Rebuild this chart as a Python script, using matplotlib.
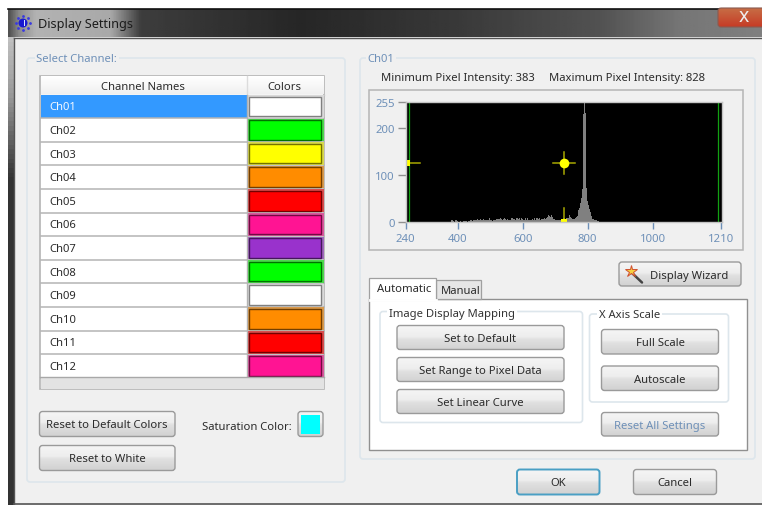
import numpy as np
import matplotlib
matplotlib.use("Agg")
import matplotlib.pyplot as plt
from matplotlib.patches import FancyBboxPatch, Rectangle, Circle

plt.rcParams['font.family'] = ['Noto Sans', 'DejaVu Sans']

# ---- data -----
channel_names = ["Ch01", "Ch02", "Ch03", "Ch04", "Ch05", "Ch06", "Ch07", "Ch08", "Ch09", "Ch10", "Ch11", "Ch12"]
channel_colors = ["#ffffff", "#00ff00", "#ffff00", "#ff8c00", "#ff0000", "#ff1493", "#9932cc", "#00ff00", "#ffffff", "#ff8c00", "#ff0000", "#ff1493"]
hist_start = 380
hist_width = 3
hist_values = [
    3, 3, 2, 0, 3, 3, 1, 0, 0, 1, 1, 0, 0, 1, 2, 2, 1, 0, 1, 2,
    3, 3, 2, 3, 3, 4, 3, 5, 3, 3, 5, 4, 3, 6, 3, 3, 4, 3, 3, 7,
    3, 3, 2, 3, 3, 3, 5, 6, 6, 4, 6, 7, 5, 3, 6, 7, 6, 4, 5, 3,
    3, 3, 7, 7, 6, 5, 3, 7, 7, 5, 7, 4, 7, 6, 4, 3, 7, 4, 7, 4,
    3, 4, 3, 6, 3, 7, 4, 7, 8, 4, 5, 7, 4, 6, 5, 6, 8, 5, 7, 9,
    15, 12, 11, 15, 9, 5, 6, 4, 3, 3, 3, 3, 4, 5, 6, 7, 7, 6, 8, 8,
    8, 14, 9, 7, 6, 5, 5, 7, 9, 13, 19, 25, 30, 40, 50, 70,
    230, 255, 232, 72, 45, 35, 28, 20, 12, 6, 5, 4, 4, 3, 2, 1,
]
hist_x = [hist_start + i * hist_width for i in range(len(hist_values))]
x_ticks = [240, 400, 600, 800, 1000, 1210]
y_ticks = [0, 100, 200, 255]
range_lines = [251, 1202]
left_pt = (245, 126)
mid_pt = (727, 126)
bot_pt = (727, 0)

W, H = 762, 506
fig = plt.figure(figsize=(W / 100, H / 100), dpi=100, facecolor="white")
ui = fig.add_axes([0, 0, 1, 1])
ui.set_xlim(0, W)
ui.set_ylim(H, 0)
ui.axis("off")

TXT = "#2b2b2b"
BLUE = "#6e90b8"
FS = 8.1


def rect(x0, y0, x1, y1, fc, ec="none", lw=1, z=1):
    p = Rectangle((x0, y0), x1 - x0, y1 - y0, fc=fc, ec=ec, lw=lw, zorder=z)
    ui.add_patch(p)
    return p


def rbox(x0, y0, x1, y1, fc, ec, lw=1, r=3, z=1):
    p = FancyBboxPatch((x0, y0), x1 - x0, y1 - y0, boxstyle=f"round,pad=0,rounding_size={r}",
                       fc=fc, ec=ec, lw=lw, zorder=z)
    ui.add_patch(p)
    return p


def label(x, y, s, color=TXT, size=FS, ha="left", z=6, **kw):
    return ui.text(x, y + 1, s, color=color, fontsize=size, ha=ha, va="center", zorder=z, **kw)


def vgrad(stops, n=64):
    pos = np.linspace(0, 1, n)
    vals = np.array([np.interp(pos, [s[0] for s in stops], [s[1] for s in stops])])
    return vals.T


def button(x0, y0, x1, y1, text, color=TXT, edge="#9a9a9a", lw=1.0):
    p = rbox(x0, y0, x1, y1, "none", edge, lw=lw, z=4)
    g = vgrad([(0, .96), (.45, .93), (.55, .88), (1, .82)])
    im = ui.imshow(g, extent=(x0, x1, y1, y0), cmap="gray", vmin=0, vmax=1, aspect="auto", zorder=3)
    im.set_clip_path(p)
    if text:
        label((x0 + x1) / 2, (y0 + y1) / 2, text, color=color, ha="center")


def group(x0, y0, x1, y1, text, tx, ty, color, bg):
    rbox(x0, y0, x1, y1, "none", "#dde6ec", lw=1.2, r=3, z=2)
    label(tx, ty - 1, text, color=color, bbox=dict(fc=bg, ec="none", pad=1.2))


# ---- window chrome ----
rect(8, 10, 762, 506, "#f0f0f0", z=0)
tb = np.interp(np.linspace(8, 762, 300), [8, 18, 35, 110, 140, 300, 450, 600, 680, 762],
               [.32, .55, .70, .66, .24, .15, .22, .32, .46, .50])[None, :]
ui.imshow(tb, extent=(8, 762, 38, 10), cmap="gray", vmin=0, vmax=1, aspect="auto", zorder=1)
ui.plot([8, 762], [9.5, 9.5], color="#111111", lw=1.2, zorder=2)
side = np.interp(np.linspace(0, 1, 100), [0, .12, .3, 1], [.75, .6, .2, .2])[:, None]
ui.imshow(side, extent=(8, 14, 506, 38), cmap="gray", vmin=0, vmax=1, aspect="auto", zorder=1, origin="upper")
ui.plot([13.5, 762], [38.5, 38.5], color="#555555", lw=1, zorder=2)
ui.plot([13.5, 13.5], [38.5, 505], color="#555555", lw=1, zorder=2)
ui.plot([13.5, 762], [505, 505], color="#555555", lw=1.2, zorder=2)

closep = rbox(718, 9, 770, 28, "none", "#8a5a50", lw=.8, r=3, z=4)
g = vgrad([(0, .78), (.45, .62), (1, .42)])
imc = ui.imshow(np.dstack([np.full_like(g, .78), g * .55, g * .35]), extent=(718, 770, 28, 9), aspect="auto", zorder=3)
imc.set_clip_path(closep)
label(744, 16, "x", color="#eeeeee", size=14, ha="center", weight="bold")

ui.add_patch(Circle((23, 24), 4.5, fc="#1a1ad0", ec="none", zorder=4))
ui.add_patch(Rectangle((23.5, 21), 1.8, 6, fc="#dfe6ff", ec="none", zorder=5))
for a in np.arange(0, 2 * np.pi, np.pi / 4):
    ui.plot(23 + 6.8 * np.cos(a), 24 + 6.8 * np.sin(a), "o", ms=1, color="#3a3ae0", zorder=4)
label(37.5, 23, "Display Settings", size=9.1, color="#1c1c1c")

# ---- left group ----
group(27, 59, 345, 483, "Select Channel:", 36.5, 59, BLUE, "#f0f0f0")
rect(40, 77, 324, 390, "white", ec="#b4b4b4", lw=1.2, z=2)
g = vgrad([(0, 1), (1, .94)])
ui.imshow(g, extent=(40.5, 323.5, 95, 77), cmap="gray", vmin=0, vmax=1, aspect="auto", zorder=2)
ui.plot([40, 324], [95.5, 95.5], color="#c8c8c8", lw=1, zorder=3)
ui.plot([246.5, 246.5], [77, 95], color="#dcdcdc", lw=1, zorder=3)
label(143, 86, "Channel Names", ha="center")
label(284.5, 86, "Colors", ha="center")
row_top, row_h = 96.0, 23.6
for i, (name, col) in enumerate(zip(channel_names, channel_colors)):
    t = row_top + i * row_h
    b = t + row_h
    if i == 0:
        rect(41, t, 246.5, b - 1, "#3399ff", z=3)
    ui.plot([41, 324], [b - .5, b - .5], color="#b4b4b4", lw=1.1, zorder=3)
    label(49.5, (t + b) / 2 - 1, name, color="#f2f8ff" if i == 0 else TXT)
    rgb = np.array(matplotlib.colors.to_rgb(col))
    edge = rgb * .45 if col != "#ffffff" else np.array([.5, .5, .5])
    halo = rgb * .55 + .3
    rect(247, t, 324, b - 1, np.clip(halo, 0, 1), z=3)
    rect(248.5, t + 1.5, 321, b - 2.5, col, ec=edge, lw=1.0, z=4)
ui.plot([246.7, 246.7], [96, 378], color="#b4b4b4", lw=1, zorder=3)
rect(40.5, 378.5, 323.5, 389.5, "#e3e3e3", z=3)
ui.plot([40, 324], [378, 378], color="#a8a8a8", lw=1, zorder=4)

button(39.5, 412.5, 175, 437.5, "Reset to Default Colors")
button(39.5, 446.5, 175, 471.5, "Reset to White")
label(292, 427, "Saturation Color:", ha="right")
button(298, 412.5, 323, 437.5, "")
rect(301, 415.5, 320, 435, "#00ffff", z=5)

# ---- right group ----
group(360, 59, 755, 460, "Ch01", 367.5, 59, BLUE, "#f0f0f0")
label(381, 77, "Minimum Pixel Intensity: 383")
label(549, 77, "Maximum Pixel Intensity: 828")
rect(368.5, 91, 743, 250.5, "#f0f0f0", ec="#b4b4b4", lw=1.1, z=2)

# Wizard button with wand icon
button(619, 263, 741, 287, "")
label(689, 275, "Display Wizard", ha="center")
ui.plot([632, 642], [274, 283.5], color="#444444", lw=1.8, zorder=6, solid_capstyle="round")
ui.plot([630.5], [271.5], marker="*", ms=9, mfc="#f5d040", mec="#d05030", mew=.7, zorder=7)

# tabs
rect(368.5, 300, 747, 451, "white", ec="#909090", lw=1.0, z=2)
rect(436, 281, 481, 300, "#e6e6e6", ec="#a0a0a0", lw=.9, z=2)
rect(368.5, 278.5, 436, 301, "white", ec="#a0a0a0", lw=.9, z=3)
ui.plot([369.5, 435.5], [300.5, 300.5], color="white", lw=2, zorder=4)
label(377, 288, "Automatic")
label(441, 290, "Manual")

group(380, 312.5, 582.5, 423.5, "Image Display Mapping", 389, 314, "#333333", "white")
button(397, 326.5, 564, 350.5, "Set to Default")
button(397, 358.5, 564, 382.5, "Set Range to Pixel Data")
button(397, 390.5, 564, 414.5, "Set Linear Curve")

group(589.5, 315, 728.5, 403, "X Axis Scale", 599, 315.5, "#333333", "white")
button(601.5, 330.5, 718.5, 355, "Full Scale")
button(601.5, 367, 718.5, 391.5, "Autoscale")
button(601.5, 413.5, 718.5, 437, "Reset All Settings", color=BLUE)

button(517, 470.5, 599.5, 495.5, "OK", edge="#4a9fc4", lw=1.4)
button(633.5, 470.5, 716.5, 495.5, "Cancel")

# ---- histogram ----
px0, px1, py0, py1 = 405.7, 722.0, 103.0, 222.7
ax = fig.add_axes([px0 / W, 1 - py1 / H, (px1 - px0) / W, (py1 - py0) / H], facecolor="black", zorder=5)
ax.set_xlim(240, 1213)
ax.set_ylim(0, 256)
ax.bar(hist_x, hist_values, width=hist_width, color="#808080", linewidth=0)
for v in range_lines:
    ax.axvline(v, color="#12a012", lw=0.9)
oliv = "#a8a800"
ax.plot([left_pt[0], left_pt[0] + 38], [left_pt[1]] * 2, color=oliv, lw=1.1)
ax.plot([mid_pt[0] - 34, mid_pt[0] + 34], [mid_pt[1]] * 2, color=oliv, lw=1.1)
ax.plot([mid_pt[0]] * 2, [mid_pt[1] - 24, mid_pt[1] + 24], color=oliv, lw=1.1)
ax.plot([bot_pt[0]] * 2, [bot_pt[1], bot_pt[1] + 29], color=oliv, lw=1.1)
ax.plot(*left_pt, "s", ms=4.2, color="#ffff00", mew=0)
ax.plot(*mid_pt, "o", ms=7, color="#ffff00", mew=0)
ax.plot(*bot_pt, "s", ms=5, color="#ffff00", mew=0)
ax.set_xticks(x_ticks)
ax.set_yticks(y_ticks)
ax.tick_params(axis="both", colors=BLUE, labelsize=8.2, length=5, width=1, pad=2.5)
ax.tick_params(axis="y", color="#909090", length=5.5)
ax.tick_params(axis="x", pad=3)
for s in ax.spines.values():
    s.set_color("#c4c4c4")
    s.set_linewidth(1)
for t in ax.get_xticklabels() + ax.get_yticklabels():
    t.set_color(BLUE)

ui.set_xlim(0, W)
ui.set_ylim(H, 0)
fig.savefig("out.png", dpi=100, facecolor="white")
